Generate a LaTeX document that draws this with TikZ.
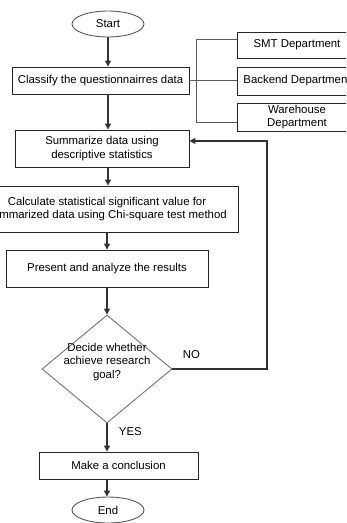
\documentclass[tikz,border=0pt]{standalone}
\usepackage{fontspec}
\setmainfont{Liberation Sans}
\usepackage{tikz}
\usetikzlibrary{calc, shapes.geometric, arrows.meta}
\tikzset{
    process/.style = {
        draw           = black!85,
        line width     = 0.9pt,
        inner sep      = 0pt,
        align          = center,
    },
    terminal/.style = {
        ellipse,
        draw           = black!65,
        line width     = 0.9pt,
        inner sep      = 0pt,
        minimum width  = 72pt,
        minimum height = 26pt,
    },
    decision/.style = {
        diamond,
        draw           = black!55,
        line width     = 0.9pt,
        inner sep      = 0pt,
        minimum width  = 130pt,
        minimum height = 108pt,
    },
    flow/.style = {
        -{Triangle[length=6pt, width=6pt]},
        line width     = 1.2pt,
        draw           = black!80,
    },
    branch/.style = {
        draw           = black!65,
        line width     = 0.9pt,
    },
}

\begin{document}
\begin{tikzpicture}[x=1pt, y=-1pt, every node/.style = {font=\fontsize{11.4}{13.2}\selectfont, text=black}]
        \useasboundingbox (0, 0) rectangle (346, 523);
        \clip (0, 0) rectangle (346, 523);

        \node at (108, 24) (start) [terminal] {Start};
        \node at (100.5, 80.5) (cls) [process, minimum width=177pt, minimum height=27pt] {Classify the questionnairres data};

        \node at (297, 45) (smt) [process, minimum width=120pt, minimum height=26pt] {SMT Department};
        \node at (297, 81) (back) [process, minimum width=120pt, minimum height=28pt] {Backend Department};
        \node at (297, 117) (ware) [process, minimum width=120pt, minimum height=28pt] {Warehouse\\Department};

        \draw [branch] (cls.east) -- (cls.east -| back.west);
        \draw [branch] ([yshift=6pt]smt.west) -| ([xshift=-40pt, yshift=-5pt]ware.west) -- ([yshift=-5pt]ware.west);

        \node at (102, 148.5) (sum) [process, minimum width=174pt, minimum height=37pt] {Summarize data using\\descriptive statistics};
        \node at (107, 209) (calc) [process, minimum width=262pt, minimum height=46pt] {Calculate statistical significant value for\\summarized data using Chi-square test method};
        \node at (107, 268.5) (pres) [process, minimum width=202pt, minimum height=37pt] {Present and analyze the results};

        \node at (107, 369) (dec) [decision] {};
        \node at (107, 362) (dectext) [align=center] {Decide whether\\achieve research\\goal?};

        \node at (118.5, 465.5) (concl) [process, minimum width=159pt, minimum height=27pt] {Make a conclusion};
        \node at (108, 510) (end) [terminal] {End};

        \draw [flow] (start.south) -- (start.south |- cls.north);
        \draw [flow] (cls.south -| start.south) -- (start.south |- sum.north);
        \draw [flow] (sum.south -| start.south) -- (start.south |- calc.north);
        \draw [flow] (calc.south) -- (pres.north);
        \draw [flow] (pres.south) -- (dec.north);
        \draw [flow] (dec.south) -- (dec.south |- concl.north) node [pos=0.3, right, xshift=8pt] {YES};
        \draw [flow] (concl.south -| dec.south) -- (dec.south |- end.north);

        \draw [flow] (dec.east) -- (267, 369) node [pos=0.2, above, yshift=6pt] {NO} |- ($(sum.north east)!0.3!(sum.south east)$);

    \end{tikzpicture}
\end{document}
